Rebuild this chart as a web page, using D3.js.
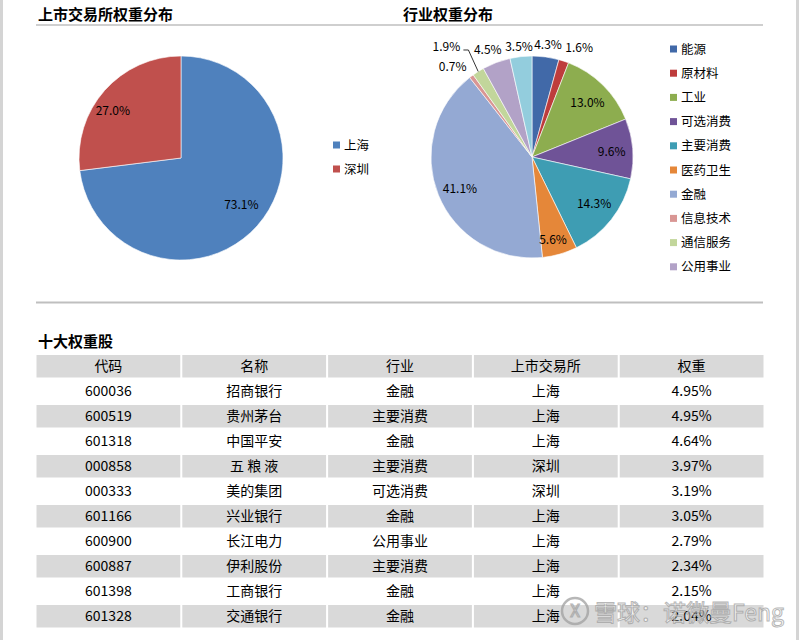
<!DOCTYPE html>
<html>
<head>
<meta charset="utf-8">
<script src="https://cdn.jsdelivr.net/npm/d3@7/dist/d3.min.js"></script>
<style>
  body{margin:0;background:#fff;}
  text{font-family:"Noto Sans CJK SC","Noto Sans",sans-serif;fill:#000;}
</style>
</head>
<body>
<svg id="chart" width="800" height="640"></svg>
<script>
// data
var exchanges = ["上海", "深圳"];
var exchangeWeights = [73.1, 27.0];
var sectors = ["能源","原材料","工业","可选消费","主要消费","医药卫生","金融","信息技术","通信服务","公用事业","其他"];
var sectorWeights = [4.3, 1.6, 13.0, 9.6, 14.3, 5.6, 41.1, 0.7, 1.9, 4.5, 3.5];
var tableHeader = ["代码","名称","行业","上市交易所","权重"];
var codes = ["600036","600519","601318","000858","000333","601166","600900","600887","601398","601328"];
var names = ["招商银行","贵州茅台","中国平安","五 粮 液","美的集团","兴业银行","长江电力","伊利股份","工商银行","交通银行"];
var industries = ["金融","主要消费","金融","主要消费","可选消费","金融","公用事业","主要消费","金融","金融"];
var listedOn = ["上海","上海","上海","深圳","深圳","上海","上海","上海","上海","上海"];
var stockWeights = ["4.95%","4.95%","4.64%","3.97%","3.19%","3.05%","2.79%","2.34%","2.15%","2.04%"];

var exColors = ["#4F81BD", "#C0504D"];
var secColors = ["#4169A8","#BE3C3C","#8DAD4F","#6F5397","#3E9DB3","#E58739","#94A9D3","#D99694","#C2D69B","#B2A2C7","#93CDDD"];

var svg = d3.select("#chart");
var deg = Math.PI / 180;

// page borders
svg.append("rect").attr("x",0).attr("y",0).attr("width",3).attr("height",640).attr("fill","#D4D4D4");
svg.append("rect").attr("x",796).attr("y",0).attr("width",3).attr("height",640).attr("fill","#D4D4D4");

// section titles + rules
function title(x, y, t){
  svg.append("text").attr("x",x).attr("y",y).text(t)
     .style("font-size","15px").style("font-weight","bold");
}
title(38, 20, "上市交易所权重分布");
title(403, 20, "行业权重分布");
title(38, 347, "十大权重股");
svg.append("line").attr("x1",36).attr("x2",763).attr("y1",25).attr("y2",25)
   .attr("stroke","#BFBFBF").attr("stroke-width",1.5);
svg.append("line").attr("x1",36).attr("x2",763).attr("y1",302.5).attr("y2",302.5)
   .attr("stroke","#BFBFBF").attr("stroke-width",2);

var pie = d3.pie().sort(null).value(d => d);

function labelPoint(cx, cy, r, a, k, nudge){
  var ang = (a.startAngle + a.endAngle) / 2 + nudge * deg;
  return [cx + r * k * Math.sin(ang), cy - r * k * Math.cos(ang)];
}

// left pie
var lp = {cx:181, cy:158, r:102};
var lArcs = pie(exchangeWeights);
var lArc = d3.arc().innerRadius(0).outerRadius(lp.r);
var lg = svg.append("g").attr("transform","translate("+lp.cx+","+lp.cy+")");
lg.selectAll("path").data(lArcs).enter().append("path")
  .attr("d", lArc).attr("fill",(d,i)=>exColors[i])
  .attr("stroke","#fff").attr("stroke-width",0.6);
var lLab = [[0.75,-3.5],[0.81,-7]];
lArcs.forEach(function(a,i){
  var p = labelPoint(lp.cx, lp.cy, lp.r, a, lLab[i][0], lLab[i][1]);
  svg.append("text").attr("x",p[0]).attr("y",p[1]).attr("dy","0.35em")
     .attr("text-anchor","middle").style("font-size","12px")
     .text(exchangeWeights[i].toFixed(1)+"%");
});
var lLeg = svg.selectAll("g.lleg").data(exchanges).enter().append("g")
  .attr("transform",(d,i)=>"translate(333,"+(145+i*24)+")");
lLeg.append("rect").attr("x",0).attr("y",-3.5).attr("width",7).attr("height",7)
    .attr("fill",(d,i)=>exColors[i]);
lLeg.append("text").attr("x",11).attr("dy","0.36em").style("font-size","12.5px").text(d=>d);

// right pie
var rp = {cx:532, cy:157, r:101};
var rArcs = pie(sectorWeights);
var rArc = d3.arc().innerRadius(0).outerRadius(rp.r);
var rg = svg.append("g").attr("transform","translate("+rp.cx+","+rp.cy+")");
rg.selectAll("path").data(rArcs).enter().append("path")
  .attr("d", rArc).attr("fill",(d,i)=>secColors[i])
  .attr("stroke","#fff").attr("stroke-width",0.6);
var rLab = [[1.12,0.4],[1.18,5],[0.77,0.9],[0.79,1.2],[0.77,-1.2],[0.85,1.8],
            [0.78,-1.9],[1.19,-4.4],[1.38,-5.7],[1.15,-1.7],[1.1,-0.4]];
rArcs.forEach(function(a,i){
  var p = labelPoint(rp.cx, rp.cy, rp.r, a, rLab[i][0], rLab[i][1]);
  svg.append("text").attr("x",p[0]).attr("y",p[1]).attr("dy","0.35em")
     .attr("text-anchor","middle").style("font-size","12px")
     .text(sectorWeights[i].toFixed(1)+"%");
  if (i == 8) {
    // leader line for the thin 通信服务 slice
    var e = labelPoint(rp.cx, rp.cy, rp.r, a, 1, 0);
    svg.append("polyline")
       .attr("points",[[p[0]+17,p[1]+3],[p[0]+22,p[1]+3],e].join(" "))
       .attr("fill","none").attr("stroke","#000").attr("stroke-width",0.8);
  }
});
var rLeg = svg.selectAll("g.rleg").data(sectors.slice(0,10)).enter().append("g")
  .attr("transform",(d,i)=>"translate(670,"+(49+i*24.2)+")");
rLeg.append("rect").attr("x",0).attr("y",-3.5).attr("width",7).attr("height",7)
    .attr("fill",(d,i)=>secColors[i]);
rLeg.append("text").attr("x",11).attr("dy","0.36em").style("font-size","12.5px").text(d=>d);

// table
var rows = [tableHeader].concat(codes.map((c,i)=>[c, names[i], industries[i], listedOn[i], stockWeights[i]]));
var col = d3.scaleBand().domain(d3.range(5)).range([36.5,763.5]).paddingInner(0.014);
var row = d3.scaleBand().domain(d3.range(rows.length)).range([355,627.5]).paddingInner(0.1);
var tr = svg.selectAll("g.row").data(rows).enter().append("g")
  .attr("transform",(d,i)=>"translate(0,"+row(i)+")");
tr.selectAll("rect").data((d,i)=>d.map(v=>i)).enter().append("rect")
  .attr("x",(d,j)=>col(j)).attr("width",col.bandwidth()).attr("height",row.bandwidth())
  .attr("fill",d => d % 2 == 0 ? "#D9D9D9" : "#fff");
tr.selectAll("text").data(d=>d).enter().append("text")
  .attr("x",(d,j)=>col(j)+col.bandwidth()/2).attr("y",row.bandwidth()/2)
  .attr("dy","0.36em").attr("text-anchor","middle").style("font-size","14px")
  .text(d=>d);

// watermark (semi-transparent, over the table corner as in the source)
var wm = svg.append("g").attr("opacity",0.75);
wm.append("circle").attr("cx",575).attr("cy",611).attr("r",13)
  .attr("fill","none").attr("stroke","#A0A0A0").attr("stroke-width",2.5);
wm.append("text").attr("x",575).attr("y",611).attr("dy","0.36em").attr("text-anchor","middle")
  .style("font-size","17px").style("fill","#fff").attr("stroke","#A0A0A0").attr("stroke-width",1.2)
  .text("X");
wm.append("text").attr("x",594).attr("y",621)
  .style("font-size","23px").style("fill","#fff").attr("stroke","#A0A0A0").attr("stroke-width",1)
  .text("雪球：诺微曼Feng");
</script>
</body>
</html>
